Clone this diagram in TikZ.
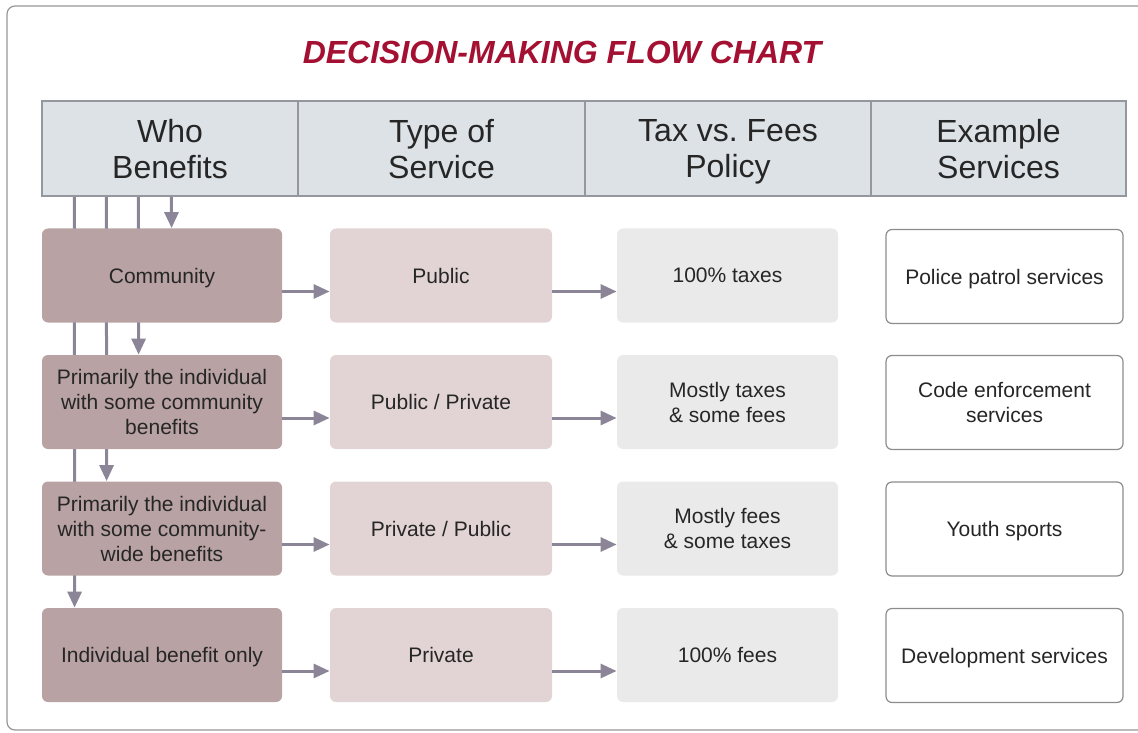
\documentclass[tikz,border=0pt]{standalone}
\usepackage{fontspec}
\setmainfont{Liberation Sans}
\usepackage{tikz}
\usetikzlibrary{arrows.meta,backgrounds}

\definecolor{titlered}{RGB}{164,16,50}
\definecolor{headfill}{RGB}{220,226,229}
\definecolor{headline}{RGB}{150,150,158}
\definecolor{whofill}{RGB}{184,162,163}
\definecolor{typefill}{RGB}{226,212,212}
\definecolor{taxfill}{RGB}{234,234,234}
\definecolor{exline}{RGB}{140,140,140}
\definecolor{flowc}{RGB}{140,133,152}
\definecolor{framec}{RGB}{150,150,150}

\begin{document}
\begin{tikzpicture}[x=0.5pt,y=-0.5pt,
        box/.style={rounded corners=3pt,minimum height=47pt,inner sep=2pt,align=center,
            text=black!85,font=\fontsize{10.5}{12.5}\selectfont,text depth=0pt},
        whobox/.style={box,fill=whofill,minimum width=120pt},
        typebox/.style={box,fill=typefill,minimum width=111pt},
        taxbox/.style={box,fill=taxfill,minimum width=110.5pt},
        exbox/.style={box,draw=exline,line width=0.6pt,fill=white,minimum width=118.5pt},
        headcell/.style={draw=headline,line width=0.6pt,fill=headfill,minimum height=47.5pt,
            align=center,text=black!85,font=\fontsize{16}{18}\selectfont,text depth=0pt},
        flow/.style={draw=flowc,line width=1.5pt,-{Triangle[length=8pt,width=7pt]}}]

    \useasboundingbox (0,0) rectangle (1138,732);
    \draw[framec,line width=0.6pt,rounded corners=4pt] (7,6) rectangle (1160,730);

    \node[text=titlered,font=\fontsize{16}{18}\selectfont\bfseries\itshape] (title) at (562,52) {DECISION-MAKING FLOW CHART};

    % column heads
    \node[headcell,minimum width=128pt]   (h1) at (170,148.5)   {Who\\Benefits};
    \node[headcell,minimum width=143.5pt] (h2) at (441.5,148.5) {Type of\\Service};
    \node[headcell,minimum width=143pt]   (h3) at (728,148.5)   {Tax vs.\ Fees\\Policy};
    \node[headcell,minimum width=127.5pt] (h4) at (998.5,148.5) {Example\\Services};

    % rows
    \node[whobox] (w1) at (162,275.5) {Community};
    \node[whobox] (w2) at (162,402)   {Primarily the individual\\with some community\\benefits};
    \node[whobox] (w3) at (162,528.5) {Primarily the individual\\with some community-\\wide benefits};
    \node[whobox] (w4) at (162,655)   {Individual benefit only};

    \node[typebox] (s1) at (441,275.5) {Public};
    \node[typebox] (s2) at (441,402)   {Public / Private};
    \node[typebox] (s3) at (441,528.5) {Private / Public};
    \node[typebox] (s4) at (441,655)   {Private};

    \node[taxbox] (p1) at (727.5,275.5) {100\% taxes};
    \node[taxbox] (p2) at (727.5,402)   {Mostly taxes\\\& some fees};
    \node[taxbox] (p3) at (727.5,528.5) {Mostly fees\\\& some taxes};
    \node[taxbox] (p4) at (727.5,655)   {100\% fees};

    \node[exbox] (e1) at (1004.5,276.5) {Police patrol services};
    \node[exbox] (e2) at (1004.5,402.5) {Code enforcement\\services};
    \node[exbox] (e3) at (1004.5,529)   {Youth sports};
    \node[exbox] (e4) at (1004.5,655.5) {Development services};

    % connectors
    \begin{scope}[on background layer]
        \foreach \dx/\row in {65/w1,48.5/w2,32.5/w3,16.5/w4}
            \draw[flow] ([xshift=\dx pt]h1.south west) -- ([xshift=\dx pt]\row.north west);
    \end{scope}
    \foreach \i in {1,...,4}{
        \draw[flow] ([yshift=-8pt]w\i.east) -- ([yshift=-8pt]s\i.west);
        \draw[flow] ([yshift=-8pt]s\i.east) -- ([yshift=-8pt]p\i.west);
    }
\end{tikzpicture}
\end{document}
